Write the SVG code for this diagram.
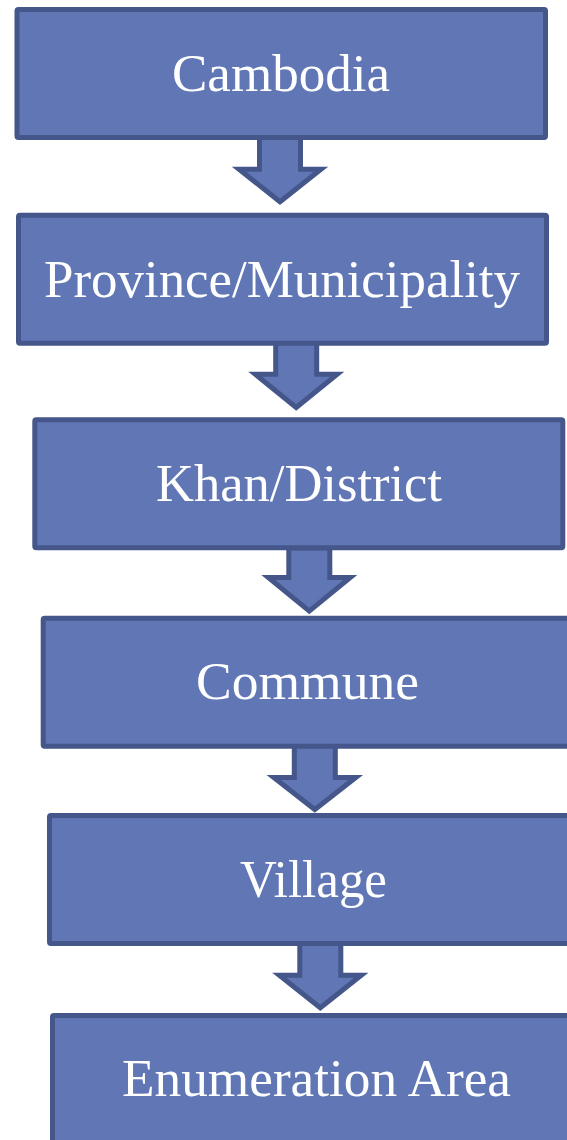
<svg xmlns="http://www.w3.org/2000/svg" width="567" height="1140" viewBox="0 0 567 1140">
  <style>
    .box { fill: #6177b5; stroke: #44568a; stroke-width: 5; }
    .arrow { fill: #6177b5; stroke: #44568a; stroke-width: 5; stroke-linejoin: miter; }
    .lbl { fill: #ffffff; font-family: "Liberation Serif", "DejaVu Serif", serif; font-size: 52px; text-anchor: middle; }
  </style>
  <rect x="0" y="0" width="567" height="1140" fill="#ffffff"/>
  <g id="connectors">
    <path class="arrow" d="M259.5,137 V169.2 H239 L280,201.8 L321,169.2 H300.5 V137 Z"/>
    <path class="arrow" d="M275.7,342 V374.2 H255.2 L296.2,407.5 L337.2,374.2 H316.7 V342 Z"/>
    <path class="arrow" d="M288.8,548 V577.5 H268.3 L309.3,611.1 L350.3,577.5 H329.8 V548 Z"/>
    <path class="arrow" d="M294.3,745 V777.5 H273.8 L314.8,809.5 L355.8,777.5 H335.3 V745 Z"/>
    <path class="arrow" d="M299.8,943 V975.2 H279.3 L320.3,1007.8 L361.3,975.2 H340.8 V943 Z"/>
  </g>
  <g id="node-cambodia">
    <rect class="box" x="17" y="9.5" width="528.5" height="128" rx="1.5"/>
    <text class="lbl" x="281" y="91" textLength="218" lengthAdjust="spacingAndGlyphs">Cambodia</text>
  </g>
  <g id="node-province">
    <rect class="box" x="18.5" y="215.2" width="528" height="128" rx="1.5"/>
    <text class="lbl" x="282" y="296.5" textLength="476" lengthAdjust="spacingAndGlyphs">Province/Municipality</text>
  </g>
  <g id="node-khan">
    <rect class="box" x="34.8" y="419.8" width="528" height="128" rx="1.5"/>
    <text class="lbl" x="299" y="500.5" textLength="286" lengthAdjust="spacingAndGlyphs">Khan/District</text>
  </g>
  <g id="node-commune">
    <rect class="box" x="43.2" y="618.2" width="528" height="128" rx="1.5"/>
    <text class="lbl" x="307.5" y="699" textLength="223" lengthAdjust="spacingAndGlyphs">Commune</text>
  </g>
  <g id="node-village">
    <rect class="box" x="49.5" y="815.5" width="528" height="128" rx="1.5"/>
    <text class="lbl" x="313.5" y="896.5" textLength="147" lengthAdjust="spacingAndGlyphs">Village</text>
  </g>
  <g id="node-enumeration">
    <rect class="box" x="52.5" y="1015.5" width="528" height="200" rx="1.5"/>
    <text class="lbl" x="316.5" y="1096" textLength="389" lengthAdjust="spacingAndGlyphs">Enumeration Area</text>
  </g>
</svg>
